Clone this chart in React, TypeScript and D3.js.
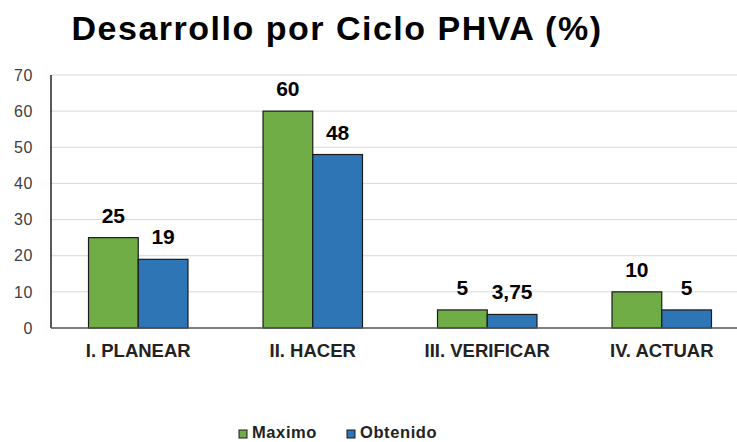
import * as d3 from 'd3'

const categories = ['I. PLANEAR', 'II. HACER', 'III. VERIFICAR', 'IV. ACTUAR']
const seriesNames = ['Maximo', 'Obtenido']
const maximo = [25, 60, 5, 10]
const obtenido = [19, 48, 3.75, 5]
const yTicks = [0, 10, 20, 30, 40, 50, 60, 70]
const colors = ['#70AD47', '#2E75B6']

const W = 737
const H = 442
const margin = { top: 75, right: -12, bottom: 114, left: 51 }
const sans = '"Liberation Sans", Arial, sans-serif'

const fmt = (v: number) => String(v).replace('.', ',')

export default function App() {
  const innerW = W - margin.left - margin.right
  const innerH = H - margin.top - margin.bottom
  const x = d3.scaleBand<string>().domain(categories).range([0, innerW]).paddingInner(0.43).paddingOuter(0.215)
  const xs = d3.scaleBand<string>().domain(seriesNames).range([0, x.bandwidth()])
  const y = d3.scaleLinear().domain([0, 70]).range([innerH, 0])
  const series = [maximo, obtenido]

  return (
    <svg width={W} height={H} style={{ position: 'absolute', left: 0, top: 0, background: '#fff' }}>
      <text x={337} y={40} textAnchor="middle" fontFamily={sans} fontWeight="bold" fontSize={34} letterSpacing={1.5} fill="#000">
        Desarrollo por Ciclo PHVA (%)
      </text>
      <g transform={`translate(${margin.left},${margin.top})`}>
        {yTicks.map(t => (
          <g key={t}>
            {t > 0 && <line x1={0} x2={innerW} y1={y(t)} y2={y(t)} stroke="#d9d9d9" strokeWidth={1} />}
            <text x={-18} y={y(t)} dy="0.36em" textAnchor="end" fontFamily={sans} fontSize={16} letterSpacing={0.6} fill="#404040">{t}</text>
          </g>
        ))}
        {categories.map((c, i) => (
          <g key={c} transform={`translate(${x(c)},0)`}>
            {series.map((s, j) => (
              <g key={j}>
                <rect
                  x={xs(seriesNames[j])}
                  y={y(s[i])}
                  width={xs.bandwidth()}
                  height={innerH - y(s[i])}
                  fill={colors[j]}
                  stroke="#1a1a1a"
                  strokeWidth={1.2}
                />
                <text
                  x={(xs(seriesNames[j]) ?? 0) + xs.bandwidth() / 2}
                  y={y(s[i]) - 15}
                  textAnchor="middle"
                  fontFamily={sans}
                  fontWeight="bold"
                  fontSize={21}
                  fill="#000"
                >
                  {fmt(s[i])}
                </text>
              </g>
            ))}
            <text
              x={x.bandwidth() / 2}
              y={innerH + 29}
              textAnchor="middle"
              fontFamily={sans}
              fontWeight="bold"
              fontSize={18.5}
              fill="#222"
            >
              {c}
            </text>
          </g>
        ))}
        <line x1={0} x2={0} y1={0} y2={innerH} stroke="#000" strokeWidth={1.3} />
        <line x1={0} x2={innerW} y1={innerH} y2={innerH} stroke="#555" strokeWidth={1.5} />
      </g>
      <g transform="translate(239,438)">
        {seriesNames.map((n, j) => (
          <g key={n} transform={`translate(${j * 108},0)`}>
            <rect x={0} y={-8} width={8} height={8} fill={colors[j]} stroke="#1a1a1a" strokeWidth={1} />
            <text x={13} y={0} fontFamily={sans} fontWeight="bold" fontSize={16.5} letterSpacing={0.6} fill="#222">{n}</text>
          </g>
        ))}
      </g>
    </svg>
  )
}
